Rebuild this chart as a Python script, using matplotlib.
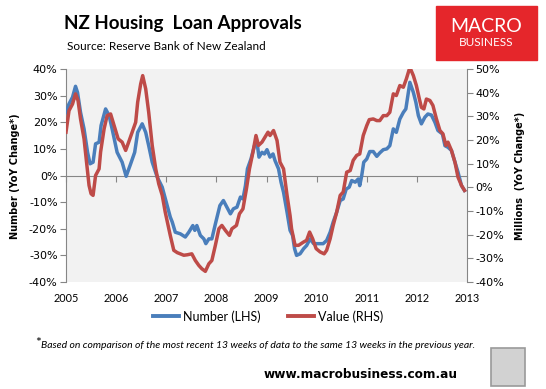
import matplotlib
matplotlib.use("Agg")
import matplotlib.pyplot as plt
from matplotlib.patches import Rectangle
from matplotlib.lines import Line2D
from matplotlib.transforms import blended_transform_factory

# Number of housing loan approvals, YoY % change (left axis)
num_t = [2005.00, 2005.06, 2005.13, 2005.19, 2005.23, 2005.29, 2005.36, 2005.43, 2005.48, 2005.54,
         2005.59, 2005.66, 2005.70, 2005.79, 2005.86, 2005.92, 2006.02, 2006.12, 2006.20, 2006.29,
         2006.37, 2006.43, 2006.52, 2006.59, 2006.65, 2006.72, 2006.82, 2006.92, 2007.00, 2007.08,
         2007.12, 2007.18, 2007.28, 2007.38, 2007.45, 2007.53, 2007.57, 2007.61, 2007.68, 2007.75,
         2007.79, 2007.85, 2007.91, 2007.98, 2008.07, 2008.14, 2008.21, 2008.28, 2008.34, 2008.41,
         2008.48, 2008.53, 2008.58, 2008.62, 2008.69, 2008.76, 2008.81, 2008.85, 2008.91, 2008.96,
         2009.01, 2009.07, 2009.13, 2009.17, 2009.24, 2009.29, 2009.34, 2009.41, 2009.47, 2009.52,
         2009.56, 2009.60, 2009.67, 2009.74, 2009.80, 2009.87, 2009.94, 2010.04, 2010.13, 2010.20,
         2010.27, 2010.33, 2010.40, 2010.47, 2010.53, 2010.59, 2010.65, 2010.70, 2010.77, 2010.83,
         2010.86, 2010.90, 2010.94, 2011.00, 2011.06, 2011.13, 2011.20, 2011.26, 2011.33, 2011.40,
         2011.46, 2011.53, 2011.59, 2011.66, 2011.73, 2011.78, 2011.83, 2011.86, 2011.93, 2011.98,
         2012.03, 2012.09, 2012.16, 2012.22, 2012.29, 2012.36, 2012.42, 2012.51, 2012.56, 2012.62,
         2012.69, 2012.76, 2012.82, 2012.89, 2012.95]
num_v = [23.7, 26.9, 29.4, 33.5, 31.2, 23.7, 17.5, 8.7, 4.4, 5.0,
         11.9, 12.5, 18.8, 25.0, 22.5, 17.5, 8.7, 5.0, -0.3, 4.4,
         8.7, 16.2, 19.4, 16.2, 11.2, 5.0, -0.6, -4.4, -10.0, -15.6,
         -17.5, -21.3, -21.9, -23.1, -21.3, -18.8, -20.6, -18.8, -22.5, -23.8,
         -25.6, -23.8, -23.8, -18.2, -11.3, -9.4, -11.9, -14.4, -12.5, -11.9,
         -8.1, -8.8, -3.8, 2.5, 6.2, 11.2, 12.5, 6.9, 8.7, 8.1,
         9.7, 6.9, 8.1, 5.6, 2.5, -2.5, -6.3, -13.8, -20.6, -22.5,
         -27.5, -30.0, -29.4, -27.5, -26.3, -23.8, -25.6, -25.6, -25.6, -24.4,
         -21.3, -17.5, -13.8, -9.4, -8.8, -5.1, -4.4, -1.9, -2.5, -1.3,
         -3.8, 0.0, 5.0, 6.2, 9.0, 9.0, 7.2, 8.5, 9.7, 10.0,
         11.2, 17.5, 16.2, 21.2, 23.7, 25.0, 31.2, 35.0, 31.2, 27.5,
         22.5, 19.4, 21.9, 23.1, 22.7, 20.0, 16.9, 15.6, 11.2, 10.6,
         9.4, 5.0, 1.3, -3.8, -5.6]

# Value of housing loan approvals, YoY % change (right axis)
val_t = [2005.00, 2005.06, 2005.13, 2005.19, 2005.24, 2005.29, 2005.36, 2005.41, 2005.46, 2005.50,
         2005.54, 2005.59, 2005.66, 2005.69, 2005.76, 2005.82, 2005.89, 2005.96, 2006.04, 2006.12,
         2006.19, 2006.25, 2006.32, 2006.39, 2006.43, 2006.49, 2006.53, 2006.59, 2006.65, 2006.72,
         2006.79, 2006.85, 2006.92, 2006.98, 2007.08, 2007.15, 2007.22, 2007.28, 2007.35, 2007.42,
         2007.51, 2007.58, 2007.65, 2007.71, 2007.78, 2007.85, 2007.91, 2007.98, 2008.05, 2008.11,
         2008.18, 2008.26, 2008.31, 2008.40, 2008.46, 2008.53, 2008.60, 2008.66, 2008.73, 2008.79,
         2008.84, 2008.91, 2008.97, 2009.03, 2009.07, 2009.14, 2009.21, 2009.27, 2009.34, 2009.41,
         2009.47, 2009.50, 2009.57, 2009.64, 2009.74, 2009.80, 2009.86, 2009.92, 2009.99, 2010.07,
         2010.15, 2010.20, 2010.27, 2010.33, 2010.40, 2010.47, 2010.53, 2010.60, 2010.67, 2010.73,
         2010.80, 2010.86, 2010.93, 2011.00, 2011.05, 2011.13, 2011.20, 2011.26, 2011.33, 2011.40,
         2011.46, 2011.53, 2011.59, 2011.66, 2011.73, 2011.79, 2011.86, 2011.93, 2011.99, 2012.05,
         2012.09, 2012.14, 2012.19, 2012.26, 2012.32, 2012.39, 2012.46, 2012.52, 2012.58, 2012.62,
         2012.69, 2012.76, 2012.82, 2012.89, 2012.95]
val_v = [23.3, 32.4, 35.2, 39.5, 36.7, 28.9, 20.5, 10.6, 0.8, -2.7,
         -3.4, 5.0, 7.8, 14.9, 24.7, 30.3, 31.0, 26.1, 20.5, 19.1,
         15.6, 19.1, 23.3, 27.5, 36.0, 43.7, 47.2, 41.6, 31.7, 17.7,
         7.8, 1.5, -3.4, -10.5, -20.3, -26.6, -27.6, -28.1, -28.7, -28.5,
         -28.1, -30.9, -33.0, -34.4, -35.5, -32.3, -30.9, -24.5, -17.5, -16.1,
         -18.2, -20.3, -17.5, -16.1, -11.2, -9.1, -0.6, 7.8, 14.9, 21.9,
         17.7, 19.1, 21.2, 23.3, 21.9, 24.0, 19.8, 10.6, 7.8, -3.4,
         -11.9, -17.5, -24.5, -24.5, -23.1, -22.4, -18.9, -21.7, -25.9, -27.3,
         -28.1, -26.6, -21.7, -16.1, -10.5, -3.4, -2.0, 6.4, 7.1, 11.4,
         13.5, 14.1, 21.9, 26.1, 28.6, 28.9, 28.2, 28.2, 30.3, 30.3,
         31.7, 39.5, 38.8, 43.0, 42.3, 45.8, 50.7, 47.2, 43.0, 37.3,
         33.8, 33.1, 37.3, 36.7, 34.6, 28.9, 24.0, 22.6, 17.7, 19.1,
         15.6, 10.6, 4.3, 0.8, -1.3]

years = list(range(2005, 2014))
left_ticks = list(range(-40, 41, 10))
right_ticks = list(range(-40, 51, 10))

blue = "#4A7EBB"
red = "#BE4B48"
grey = "#868686"

fig = plt.figure(figsize=(5.46, 3.89), dpi=100)
ax = fig.add_axes([66 / 546, 1 - 282 / 389, 401 / 546, 213 / 389])
ax.set_facecolor("#F2F2F2")
ax2 = ax.twinx()

ax.plot(num_t, num_v, color=blue, lw=2.5, solid_joinstyle="round", zorder=3)
ax2.plot(val_t, val_v, color=red, lw=2.5, solid_joinstyle="round", zorder=3)

ax.set_xlim(2005, 2013)
ax.set_ylim(-40, 40)
ax2.set_ylim(-40, 50)

for a in (ax, ax2):
    for s in a.spines.values():
        s.set_visible(False)
ax.spines["left"].set_visible(True)
ax.spines["left"].set_color(grey)
ax2.spines["right"].set_visible(True)
ax2.spines["right"].set_color(grey)

# x axis crossing at zero, labels low
ax.spines["bottom"].set_visible(True)
ax.spines["bottom"].set_position(("data", 0))
ax.spines["bottom"].set_color(grey)
ax.spines["bottom"].set_zorder(2)
ax.set_xticks(years)
ax.tick_params(axis="x", direction="out", length=4, color=grey, labelbottom=False)

trans = blended_transform_factory(ax.transData, ax.transAxes)
for y in years:
    ax.text(y, -0.078, str(y), transform=trans, ha="center", va="center",
            fontsize=7.8, family="Lato", color="black")

ax.set_yticks(left_ticks)
ax.set_yticklabels([f"{v}%" for v in left_ticks])
ax.tick_params(axis="y", direction="out", length=4, color=grey, labelsize=8, pad=2)
ax2.set_yticks(right_ticks)
ax2.set_yticklabels([f"{v}%" for v in right_ticks])
ax2.tick_params(axis="y", direction="out", length=4, color=grey, labelsize=8, pad=2)

fig.text(15 / 546, 1 - 176 / 389, "Number (YoY Change*)", rotation=90, ha="center", va="center",
         fontsize=7, fontweight="bold")
fig.text(520 / 546, 1 - 176 / 389, "Millions  (YoY Change*)", rotation=90, ha="center", va="center",
         fontsize=7, fontweight="bold")

# titles
fig.text(64 / 546, 1 - 23 / 389, "NZ Housing  Loan Approvals", ha="left", va="center",
         fontsize=13.5, fontweight="bold", family="Lato")
fig.text(67 / 546, 1 - 47 / 389, "Source: Reserve Bank of New Zealand", ha="left", va="center",
         fontsize=8.5, family="Lato")

# logo
fig.patches.append(Rectangle((436 / 546, 1 - 60 / 389), 101 / 546, 54 / 389,
                             transform=fig.transFigure, color="#E5262B", zorder=1))
fig.text(486.5 / 546, 1 - 26 / 389, "MACRO", ha="center", va="center", color="white",
         fontsize=14, family="Lato", zorder=2)
fig.text(486.5 / 546, 1 - 42 / 389, "BUSINESS", ha="center", va="center", color="white",
         fontsize=8.5, family="Lato", zorder=2)

# legend
handles = [Line2D([], [], color=blue, lw=2.8), Line2D([], [], color=red, lw=2.8)]
fig.legend(handles, ["Number (LHS)", "Value (RHS)"], loc="center", ncol=2,
           bbox_to_anchor=(268 / 546, 1 - 316.5 / 389), frameon=False,
           prop={"family": "Lato", "size": 9}, handlelength=2.1, handletextpad=0.3,
           columnspacing=2.2)

# footnote
fig.text(35 / 546, 1 - 343 / 389, "*", ha="left", va="center", fontsize=10, family="Lato")
fig.text(41 / 546, 1 - 345 / 389,
         "Based on comparison of the most recent 13 weeks of data to the same 13 weeks in the previous year.",
         ha="left", va="center", fontsize=7.5, style="italic", family="Lato")

fig.text(264 / 546, 1 - 374.5 / 389, "www.macrobusiness.com.au", ha="left", va="center",
         fontsize=8.7, fontweight="bold")

# wolf badge placeholder
fig.patches.append(Rectangle((491 / 546, 1 - 386 / 389), 34 / 546, 38 / 389,
                             transform=fig.transFigure, facecolor="#D2D2D2", edgecolor="#9A9A9A",
                             lw=1.2, zorder=1))

fig.savefig("out.png", dpi=100)
